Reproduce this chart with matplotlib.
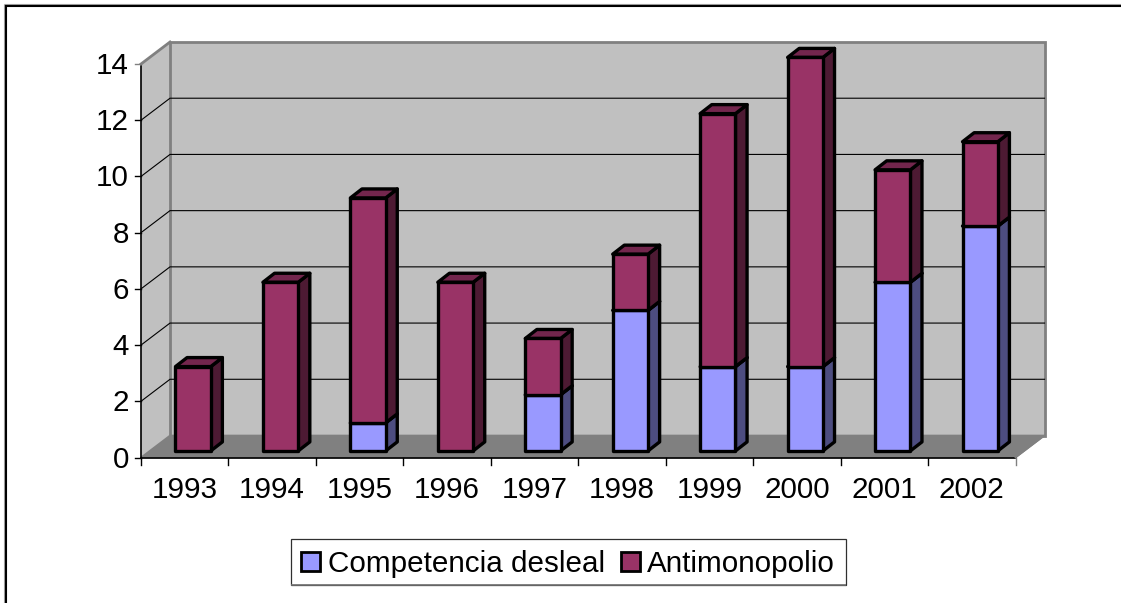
import matplotlib
matplotlib.use("Agg")
import matplotlib.pyplot as plt
from matplotlib.lines import Line2D
from matplotlib.patches import Polygon, Rectangle

years = ["1993", "1994", "1995", "1996", "1997", "1998", "1999", "2000", "2001", "2002"]
competencia = [0, 0, 1, 0, 2, 5, 3, 3, 6, 8]
antimonopolio = [3, 6, 8, 6, 2, 2, 9, 11, 4, 3]
yticks = [0, 2, 4, 6, 8, 10, 12, 14]
series_names = ["Competencia desleal", "Antimonopolio"]

W, H = 1121, 603
FS = 21.3
plt.rcParams["font.family"] = ["Liberation Sans", "DejaVu Sans"]
fig = plt.figure(figsize=(W / 100, H / 100), dpi=100, facecolor="white")

# axes: front plane of the pseudo-3D box
L, R, B, T = 141, 1015.5, 457.5, 64
ax = fig.add_axes([L / W, 1 - B / H, (R - L) / W, (B - T) / H])
ax.set_xlim(0, len(years))
ax.set_ylim(0, 14)
ax.axis("off")

pxx = (R - L) / len(years)
pxy = (B - T) / 14
DX, DY = 29 / pxx, 22 / pxy           # box depth
n = len(years)
ymax = 14

WALL = "#C0C0C0"
FLOOR = "#808080"
EDGE = "#808080"

# side wall, back wall, floor
ax.add_patch(Polygon([(0, 0), (DX, DY), (DX, ymax + DY), (0, ymax)], fc=WALL, ec="none", clip_on=False, zorder=1))
ax.add_patch(Polygon([(DX, DY), (n + DX, DY), (n + DX, ymax + DY), (DX, ymax + DY)], fc=WALL, ec=EDGE, lw=2, clip_on=False, zorder=1))
ax.add_patch(Polygon([(0, 0), (n, 0), (n + DX, DY), (DX, DY)], fc=FLOOR, ec=EDGE, lw=1.2, clip_on=False, zorder=1.5))

# gridlines
for v in yticks[1:-1]:
    ax.plot([0, DX, n + DX], [v, v + DY, v + DY], color="black", lw=0.8, clip_on=False, zorder=2)

# front axes lines and ticks
ax.plot([0, 0], [0, ymax], color="black", lw=1.2, clip_on=False, zorder=3)
ax.plot([0, n], [0, 0], color="black", lw=1.2, clip_on=False, zorder=3)
ax.plot([0, DX], [ymax, ymax + DY], color=EDGE, lw=2, clip_on=False, zorder=3)
ax.plot([n, n + DX], [0, DY], color=EDGE, lw=1.2, clip_on=False, zorder=3)
for v in yticks:
    ax.plot([-6 / pxx, 0], [v, v], color="black" if v < ymax else EDGE, lw=1, clip_on=False, zorder=3)
    ax.text(-12 / pxx, v - 10 / pxy, str(v), ha="right", va="baseline", fontsize=FS, color="black")
for i in range(n + 1):
    ax.plot([i, i], [0, -7 / pxy], color=EDGE if i == n else "black", lw=1, clip_on=False, zorder=3)
for i, y in enumerate(years):
    ax.text(i + 0.5, -40.5 / pxy, y, ha="center", va="baseline", fontsize=FS, color="black")

# bars
bar_w = 35.3 / pxx
off_x, off_y = 8.4 / pxx, 6.6 / pxy    # bar front plane within the box
dep_x, dep_y = 11.6 / pxx, 9 / pxy     # bar depth
COLORS = {0: ("#9999FF", "#4D4D80", "#7373BF"), 1: ("#993366", "#4D1A33", "#73264D")}


def box(x0, y0, y1, cols, z):
    x1 = x0 + bar_w
    front, side, top = cols
    st = dict(ec="black", lw=2.4, joinstyle="round", clip_on=False, zorder=z)
    ax.add_patch(Polygon([(x1, y0), (x1 + dep_x, y0 + dep_y), (x1 + dep_x, y1 + dep_y), (x1, y1)], fc=side, **st))
    ax.add_patch(Polygon([(x0, y1), (x1, y1), (x1 + dep_x, y1 + dep_y), (x0 + dep_x, y1 + dep_y)], fc=top, **st))
    ax.add_patch(Polygon([(x0, y0), (x1, y0), (x1, y1), (x0, y1)], fc=front, **st))


for i, (c, a) in enumerate(zip(competencia, antimonopolio)):
    x0 = i + 0.5 - bar_w / 2 + off_x
    if c > 0:
        box(x0, off_y, c + off_y, COLORS[0], 5)
    if a > 0:
        box(x0, c + off_y, c + a + off_y, COLORS[1], 6)


def fig_line(xs, ys, color, lw):
    fig.add_artist(Line2D([x / W for x in xs], [1 - y / H for y in ys], color=color, lw=lw,
                          transform=fig.transFigure, solid_capstyle="butt"))


# outer frame: only top and left edges are visible
fig_line([4, W], [4, 4], "#A0A0A0", 0.8)
fig_line([4, 4], [4, H], "#A0A0A0", 0.8)
fig_line([5, W], [5.5, 5.5], "black", 1.5)
fig_line([5.5, 5.5], [5, H], "black", 1.5)

# legend (frame + keys + labels)
fig.add_artist(Rectangle((291 / W, 1 - 585 / H), 555 / W, 46.5 / H, transform=fig.transFigure, fc="white", ec="#303030", lw=0.9))
fig_line([291, 846], [585, 585], "#707070", 1.2)
for name, kx, tx, col in zip(series_names, [300.5, 620.5], [328, 646.5], [COLORS[0][0], COLORS[1][0]]):
    fig.add_artist(Rectangle((kx / W, 1 - 571 / H), 19.5 / W, 19.5 / H, transform=fig.transFigure, fc=col, ec="black", lw=2))
    fig.text(tx / W, 1 - 571.5 / H, name, ha="left", va="baseline", fontsize=FS, color="black")

fig.savefig("out.png", dpi=100, facecolor="white")
